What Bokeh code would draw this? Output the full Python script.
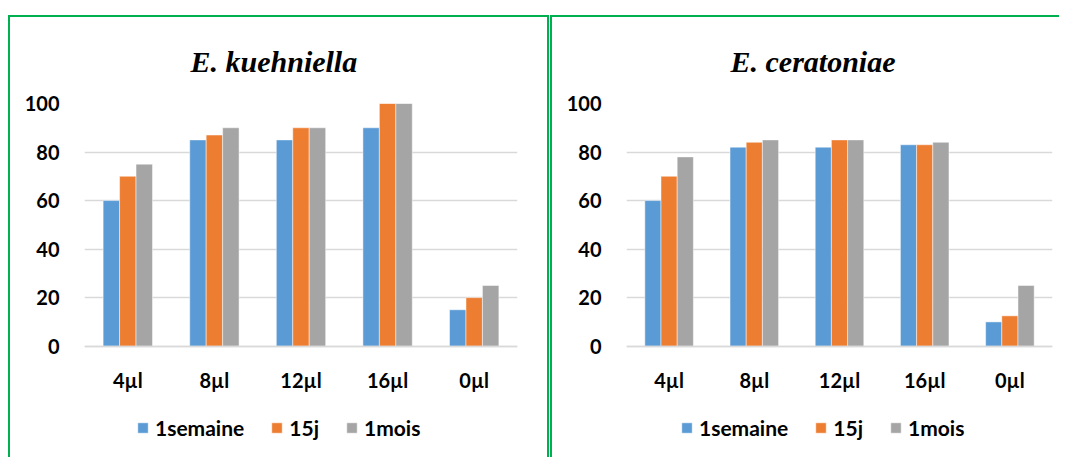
from bokeh.plotting import figure
from bokeh.models import (ColumnDataSource, Range1d, FactorRange, Legend, LegendItem,
                          Title, FixedTicker, Spacer)
from bokeh.layouts import row, column
from bokeh.transform import dodge
from bokeh.embed import file_html
from bokeh.resources import INLINE

categories = ["4µl", "8µl", "12µl", "16µl", "0µl"]
series = ["1semaine", "15j", "1mois"]
colors = ["#5B9BD5", "#ED7D31", "#A5A5A5"]
y_ticks = [0, 20, 40, 60, 80, 100]

kueh_1semaine = [60, 85, 85, 90, 15]
kueh_15j = [70, 87, 90, 100, 20]
kueh_1mois = [75, 90, 90, 100, 25]

cera_1semaine = [60, 82, 82, 83, 10]
cera_15j = [70, 84, 85, 83, 12.5]
cera_1mois = [78, 85, 85, 84, 25]

SANS = "Lato"
GREEN = "#00B050"


def make_panel(title, vals, width, mbl, mbr, title_offset, legend_x, border_right=True):
    src = ColumnDataSource(dict(cat=categories, s0=vals[0], s1=vals[1], s2=vals[2]))
    p = figure(x_range=FactorRange(*categories), y_range=Range1d(-46.7, 100),
               width=width, height=442, output_backend="svg", toolbar_location=None,
               min_border_left=mbl, min_border_right=mbr, min_border_top=84,
               min_border_bottom=0)
    p.title = Title(text=title, text_font="Liberation Serif", text_font_style="bold italic",
                    text_font_size="30px", align="left", offset=title_offset,
                    standoff=51, text_color="#000000")
    bw = 0.19
    renderers = []
    for i, key in enumerate(["s0", "s1", "s2"]):
        r = p.vbar(x=dodge("cat", (i - 1) * bw, range=p.x_range), top=key, width=bw,
                   source=src, fill_color=colors[i], line_color="#FFFFFF",
                   line_width=0.8, line_alpha=0.6)
        renderers.append(r)
    p.outline_line_color = None
    p.xgrid.grid_line_color = None
    p.ygrid.ticker = FixedTicker(ticks=y_ticks)
    p.ygrid.grid_line_color = "#D9D9D9"
    p.ygrid.grid_line_width = 1.5
    p.yaxis.ticker = FixedTicker(ticks=y_ticks)
    p.yaxis.axis_line_color = None
    p.yaxis.major_tick_line_color = None
    p.yaxis.minor_tick_line_color = None
    p.yaxis.major_label_text_font = SANS
    p.yaxis.major_label_text_font_style = "bold"
    p.yaxis.major_label_text_font_size = "20px"
    p.yaxis.major_label_text_color = "#000000"
    p.yaxis.major_label_standoff = 19
    p.xaxis.fixed_location = 0
    p.xaxis.axis_line_color = "#D9D9D9"
    p.xaxis.axis_line_width = 1.5
    p.xaxis.major_tick_line_color = None
    p.xaxis.minor_tick_line_color = None
    p.xaxis.major_label_text_font = SANS
    p.xaxis.major_label_text_font_style = "bold"
    p.xaxis.major_label_text_font_size = "20px"
    p.xaxis.major_label_text_color = "#000000"
    p.xaxis.major_label_standoff = 16
    legend = Legend(items=[LegendItem(label=s, renderers=[r]) for s, r in zip(series, renderers)],
                    orientation="horizontal", location=(legend_x, 19),
                    label_text_font=SANS, label_text_font_style="bold",
                    label_text_font_size="21px", label_text_color="#000000",
                    glyph_width=13, glyph_height=13, label_standoff=6, spacing=26,
                    border_line_color=None, background_fill_alpha=0, margin=0, padding=0)
    p.add_layout(legend)
    st = {"border-top": f"2px solid {GREEN}", "border-left": f"2px solid {GREEN}"}
    if border_right:
        st["border-right"] = f"2px solid {GREEN}"
    p.styles = st
    return p


p1 = make_panel("E. kuehniella", [kueh_1semaine, kueh_15j, kueh_1mois], 541, 74, 34, 106, 52)
p2 = make_panel("E. ceratoniae", [cera_1semaine, cera_15j, cera_1mois], 509, 74, 9, 104, 54,
                border_right=False)

layout = column(Spacer(height=15), row(Spacer(width=8), p1, Spacer(width=1), p2))
open("out.html", "w").write(file_html(layout, INLINE))
